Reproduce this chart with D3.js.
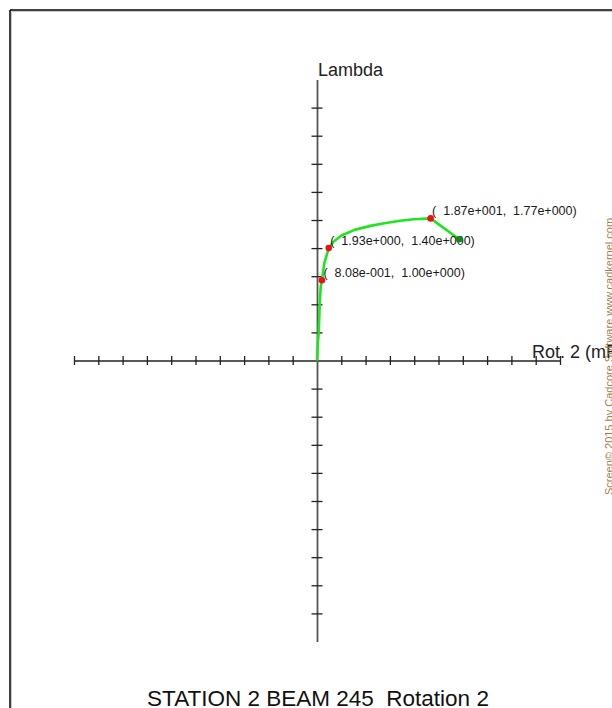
<!DOCTYPE html>
<html>
<head>
<meta charset="utf-8">
<script src="https://cdn.jsdelivr.net/npm/d3@7/dist/d3.min.js"></script>
<style>
html,body{margin:0;padding:0;background:#fff;}
svg{display:block;}
text{font-family:Arial,"Liberation Sans",sans-serif;}
</style>
</head>
<body>
<svg id="chart" width="612" height="708"></svg>
<script>
// ---- data ----
const curveX = [0, 0.12, 0.28, 0.44, 0.61, 0.808, 1.2, 1.93, 2.7, 4.1, 6.3, 9.0, 11.1, 13.7, 15.9, 18.7, 23.4];
const curveY = [0, 0.20, 0.34, 0.69, 0.92, 1.00, 1.21, 1.40, 1.48, 1.56, 1.63, 1.68, 1.71, 1.74, 1.76, 1.77, 1.51];
const markX = [0.808, 1.93, 18.7];
const markY = [1.00, 1.40, 1.77];
const markLabels = ["(  8.08e-001,  1.00e+000)", "(  1.93e+000,  1.40e+000)", "(  1.87e+001,  1.77e+000)"];
const xTicks = [-40,-36,-32,-28,-24,-20,-16,-12,-8,-4,4,8,12,16,20,24,28,32,36,40];
const yTicks = [-3.15,-2.8,-2.45,-2.1,-1.75,-1.4,-1.05,-0.7,-0.35,0.35,0.7,1.05,1.4,1.75,2.1,2.45,2.8,3.15];
const xDomain = [-40, 40];
const yDomain = [-3.5, 3.5];
const xTitle = "Rot. 2 (mRad)";
const yTitle = "Lambda";
const chartTitle = "STATION 2 BEAM 245  Rotation 2";
const sideNote = "Screen\u00a9 2015 by Cadcore Software  www.cadkernel.com";

const svg = d3.select("#chart");

// frame
svg.append("line").attr("x1",10).attr("y1",10).attr("x2",612).attr("y2",10).attr("stroke","#000").attr("stroke-width",1.5);
svg.append("line").attr("x1",10).attr("y1",10).attr("x2",10).attr("y2",708).attr("stroke","#000").attr("stroke-width",1.5);
svg.append("line").attr("x1",11.5).attr("y1",11.5).attr("x2",612).attr("y2",11.5).attr("stroke","#c8c8c8").attr("stroke-width",1);
svg.append("line").attr("x1",11.5).attr("y1",11.5).attr("x2",11.5).attr("y2",708).attr("stroke","#c8c8c8").attr("stroke-width",1);

const x = d3.scaleLinear().domain(xDomain).range([74, 560]);
const y = d3.scaleLinear().domain(yDomain).range([641.5, 79.5]);

const x0 = x(0), y0 = y(0);

// x axis
const gx = svg.append("g").attr("transform",`translate(0,${y0})`);
gx.call(d3.axisBottom(x).tickValues(xTicks).tickSize(0).tickFormat(""));
gx.select(".domain").attr("stroke","#222").attr("stroke-width",1.3);
gx.selectAll(".tick line").remove();
gx.selectAll(".tick").append("line").attr("y1",-4.5).attr("y2",4.5).attr("stroke","#222").attr("stroke-width",1.3);

// y axis
const gy = svg.append("g").attr("transform",`translate(${x0},0)`);
gy.call(d3.axisLeft(y).tickValues(yTicks).tickSize(0).tickFormat(""));
gy.select(".domain").attr("stroke","#555").attr("stroke-width",1.8);
gy.selectAll(".tick line").remove();
gy.selectAll(".tick").append("line").attr("x1",-5.5).attr("x2",5.5).attr("stroke","#222").attr("stroke-width",1.3);

// axis titles
svg.append("text").attr("x", x0+1).attr("y", y(3.5)-4).attr("font-size",18).attr("fill","#222").text(yTitle);
svg.append("text").attr("x", 532).attr("y", y0-3).attr("font-size",18).attr("fill","#222").text(xTitle);

// curve
const pts = curveX.map((v,i)=>[v, curveY[i]]);
svg.append("path").datum(pts)
  .attr("d", d3.line().x(d=>x(d[0])).y(d=>y(d[1])).curve(d3.curveLinear))
  .attr("fill","none").attr("stroke","#1ee61e").attr("stroke-width",2.6).attr("stroke-linejoin","round");

// marked points
const marks = markX.map((v,i)=>({x:v, y:markY[i], label:markLabels[i]}));
svg.selectAll("circle.mark").data(marks).join("circle").attr("class","mark")
  .attr("cx",d=>x(d.x)).attr("cy",d=>y(d.y)).attr("r",3.3).attr("fill","#ee1111");
svg.selectAll("text.mlab").data(marks).join("text").attr("class","mlab")
  .attr("x",d=>x(d.x)+1.5).attr("y",d=>y(d.y)-3).attr("font-size",12.5).attr("fill","#1a1a1a")
  .attr("xml:space","preserve").style("white-space","pre").text(d=>d.label);

// end point
const last = pts[pts.length-1];
svg.append("circle").attr("cx",x(last[0])).attr("cy",y(last[1])).attr("r",3.3).attr("fill","#138a13");

// title
svg.append("text").attr("x",318).attr("y",705.5).attr("text-anchor","middle").attr("font-size",22.5).attr("fill","#111")
  .attr("xml:space","preserve").style("white-space","pre").text(chartTitle);

// side note (clipped at right edge)
svg.append("text").attr("transform","translate(613,495) rotate(-90)").attr("font-size",11)
  .attr("fill","#a08050").text(sideNote);
</script>
</body>
</html>
